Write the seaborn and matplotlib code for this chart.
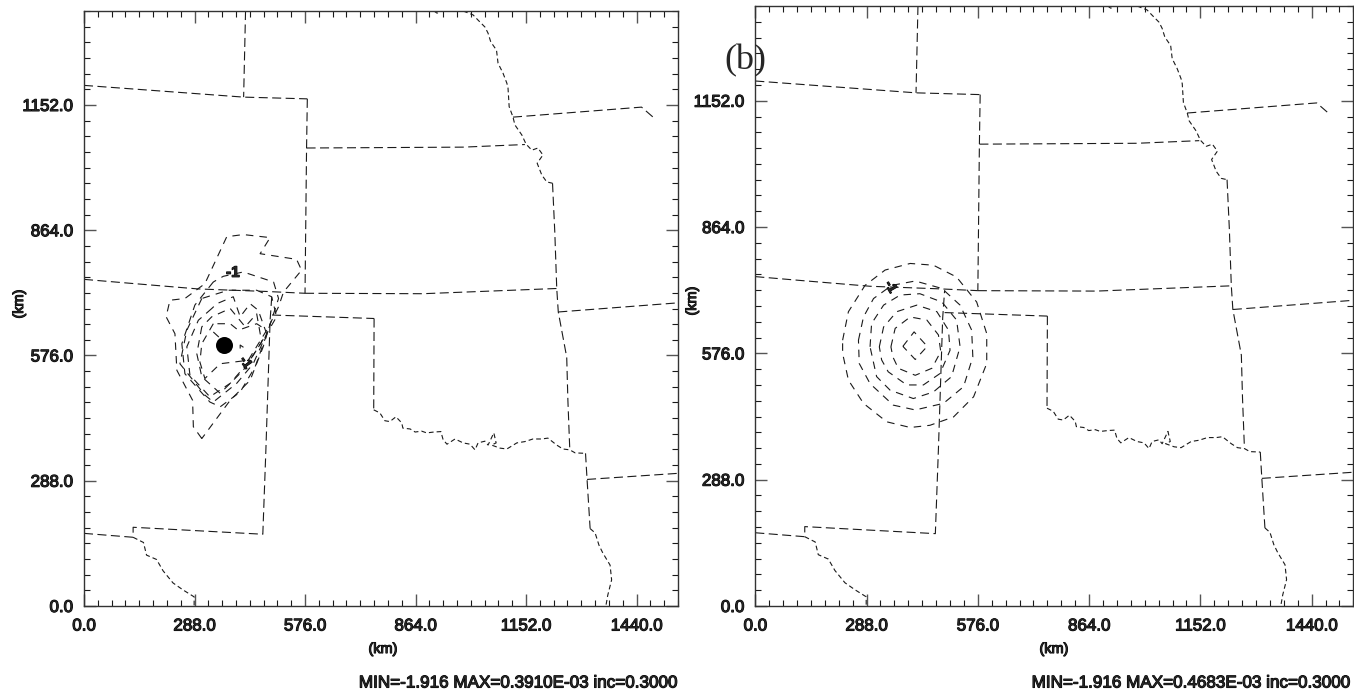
#!/usr/bin/env python
# -*- coding: utf-8 -*-
import matplotlib
matplotlib.use('Agg')
import matplotlib.pyplot as plt
import matplotlib.patheffects as pe
import pandas as pd
import seaborn as sns

# state lines, km
colorado_north = [(0, 1197), (416, 1170), (582, 1166)]
wyoming_east = [(421, 1368), (416, 1170)]
colorado_east = [(582, 1166), (580, 1053), (576, 719)]
nebraska_south = [(580, 1053), (988, 1055), (1149, 1061)]
kansas_south = [(576, 719), (883, 718), (1232, 730)]
colorado_south = [(0, 751), (120, 742), (297, 729), (480, 723), (576, 719)]
panhandle_north = [(490, 669), (756, 661)]
oklahoma_west = [(756, 661), (755, 451)]
oklahoma_east = [(1221, 972), (1227, 858), (1232, 730), (1236, 676), (1258, 572), (1261, 474), (1266, 359)]
arkansas_west = [(1307, 351), (1311, 291), (1319, 178)]
arkansas_north = [(1311, 291), (1548, 305)]
missouri_south = [(1236, 676), (1548, 697)]
iowa_south = [(1118, 1124), (1453, 1147), (1483, 1124)]
sw_line = [(0, 167), (128, 158), (128, 181), (466, 165), (474, 359), (485, 657), (490, 720)]

# rivers, km
red_river = [(755, 451), (771, 444), (784, 426), (797, 424), (813, 435), (828, 421), (831, 409),
             (850, 407), (863, 400), (880, 402), (893, 398), (912, 400), (930, 401), (936, 382),
             (946, 372), (967, 384), (988, 375), (1006, 372), (1019, 359), (1027, 375), (1045, 379),
             (1053, 370), (1068, 398), (1074, 375), (1062, 370), (1084, 363), (1102, 361),
             (1128, 375), (1149, 378), (1170, 384), (1193, 384), (1209, 386), (1232, 370),
             (1248, 361), (1266, 359), (1280, 352), (1307, 351)]
south_river = [(1319, 178), (1332, 168), (1342, 140), (1352, 122), (1371, 94), (1375, 60),
               (1365, 25), (1362, 10), (1360, 0)]
missouri_river = [(988, 1368), (1014, 1359), (1027, 1347), (1045, 1331), (1053, 1317), (1060, 1297),
                  (1075, 1278), (1079, 1248), (1092, 1225), (1102, 1202), (1105, 1191), (1108, 1148),
                  (1118, 1124), (1123, 1106), (1141, 1083), (1152, 1062), (1167, 1048), (1183, 1053),
                  (1196, 1037), (1181, 1018), (1193, 991), (1206, 975), (1221, 972)]
top_arc = [(912, 1368), (920, 1363), (930, 1368)]
sw_river = [(128, 158), (155, 146), (163, 117), (189, 107), (206, 81), (232, 53), (258, 37), (287, 21), (287, 0)]

# panel a contours
a1 = [(307, 385), (285, 412), (283, 473), (242, 542), (237, 626), (214, 665), (224, 703), (263, 707),
      (315, 741), (372, 849), (415, 854), (485, 847), (459, 810), (554, 797), (567, 772), (520, 722),
      (507, 688), (485, 649), (467, 596), (433, 519), (381, 473), (307, 385)]
a2 = [(337, 745), (289, 692), (255, 603), (263, 534), (328, 469), (355, 458), (407, 492), (446, 550),
      (480, 634), (507, 707), (494, 745), (415, 768), (363, 758), (337, 745)]
a3 = [(307, 707), (268, 634), (250, 557), (315, 485), (337, 469), (398, 512), (441, 557), (476, 626),
      (502, 665), (489, 711), (450, 726), (376, 726), (307, 707)]
a4 = [(333, 684), (298, 657), (268, 596), (276, 531), (328, 481), (381, 512), (433, 565), (476, 626),
      (454, 680), (433, 695), (407, 665), (389, 711), (346, 695), (333, 684)]
a5 = [(307, 642), (294, 580), (307, 527), (355, 489), (415, 542), (463, 607), (450, 672), (420, 642),
      (381, 684), (333, 665), (307, 642)]
a6 = [(337, 649), (307, 603), (302, 561), (315, 523), (355, 557), (428, 565), (476, 634), (450, 649),
      (402, 634), (381, 649), (337, 649)]
a7 = [(407, 592), (407, 600), (420, 592)]
a8 = [(337, 630), (353, 617)]
contours_a = [a1, a2, a3, a4, a5, a6, a7, a8]
obs_x = [365]
obs_y = [600]

# panel b contours
b1 = [(226, 606), (241, 671), (284, 731), (336, 766), (401, 781), (461, 777), (521, 750), (573, 693),
      (599, 621), (599, 553), (565, 477), (513, 431), (452, 412), (401, 407), (340, 420), (280, 462),
      (241, 515), (226, 576), (226, 606)]
b2 = [(267, 606), (280, 659), (306, 701), (353, 731), (414, 741), (483, 724), (530, 686), (560, 629),
      (563, 568), (539, 500), (487, 462), (414, 447), (357, 458), (297, 507), (269, 553), (267, 606)]
b3 = [(297, 591), (301, 644), (332, 686), (375, 709), (426, 712), (483, 693), (521, 652), (530, 591),
      (508, 523), (461, 488), (409, 473), (349, 492), (314, 523), (297, 591)]
b4 = [(321, 591), (332, 636), (366, 671), (418, 686), (470, 671), (500, 629), (504, 583), (478, 530),
      (435, 504), (392, 504), (344, 534), (327, 561), (321, 591)]
b5 = [(351, 591), (362, 633), (401, 659), (444, 652), (474, 618), (480, 580), (457, 542), (414, 526),
      (370, 542), (356, 568), (351, 591)]
b6 = [(382, 592), (411, 625), (445, 592), (414, 562), (382, 592)]
contours_b = [b1, b2, b3, b4, b5, b6]

state_lines = [colorado_north, wyoming_east, colorado_east, nebraska_south, kansas_south, colorado_south,
               panhandle_north, oklahoma_west, oklahoma_east, arkansas_west, arkansas_north, missouri_south,
               iowa_south, sw_line]
rivers = [red_river, south_river, missouri_river, top_arc, sw_river]

x_ticks = [0, 288, 576, 864, 1152, 1440]
y_ticks = [0, 288, 576, 864, 1152]
minor_step = 36
x_max = 1548
y_max = 1368
note_a = 'MIN=-1.916 MAX=0.3910E-03 inc=0.3000'
note_b = 'MIN=-1.916 MAX=0.4683E-03 inc=0.3000'

sns.set_style('white')
plt.rcParams['font.family'] = ['Liberation Sans', 'DejaVu Sans']
plt.rcParams['lines.scale_dashes'] = False

W, H = 1354, 696
fig = plt.figure(figsize=(W / 100, H / 100), dpi=100)
INK = '#1a1a1a'
thick = [pe.withStroke(linewidth=0.8, foreground='black')]


def line(ax, pts, dash, lw=0.8):
    df = pd.DataFrame(pts, columns=['x', 'y'])
    sns.lineplot(data=df, x='x', y='y', sort=False, estimator=None, errorbar=None, ax=ax,
                 color=INK, linewidth=lw, linestyle=(0, dash))


def panel(left, right, top, bottom, contours):
    ax = fig.add_axes([left / W, 1 - bottom / H, (right - left) / W, (bottom - top) / H])
    for pts in state_lines:
        line(ax, pts, (6.5, 3.2))
    for pts in rivers:
        line(ax, pts, (3.4, 2.2))
    for pts in contours:
        line(ax, pts, (5.4, 4.4))
    ax.set_xlim(0, x_max)
    ax.set_ylim(0, y_max)
    ax.set_xticks(x_ticks)
    ax.set_yticks(y_ticks)
    ax.set_xticks(range(0, x_max + 1, minor_step), minor=True)
    ax.set_yticks(range(0, y_max + 1, minor_step), minor=True)
    ax.set_xticklabels(['%.1f' % v for v in x_ticks], fontsize=12.2, path_effects=thick)
    ax.set_yticklabels(['%.1f' % v for v in y_ticks], fontsize=12.2, path_effects=thick)
    ax.set_xlabel('')
    ax.set_ylabel('')
    ax.tick_params(which='major', direction='in', length=8.6, width=1, color='#555555',
                   top=True, right=True, bottom=True, left=True, pad=9)
    ax.tick_params(which='minor', direction='in', length=4.6, width=0.8, color=INK,
                   top=True, right=True, bottom=True, left=True)
    ax.tick_params(axis='y', which='major', pad=8)
    for s in ax.spines.values():
        s.set_linewidth(1)
        s.set_color('#333333')
    ax.patch.set_alpha(0)
    return ax


ax_a = panel(84, 678, 11, 606, contours_a)
ax_b = panel(755.3, 1353.4, 6, 606, contours_b)

sns.scatterplot(x=obs_x, y=obs_y, ax=ax_a, color='black', s=150, linewidth=0, zorder=5)
ax_a.text(388, 766, '-1', fontsize=11, fontweight='bold', ha='center', va='center', path_effects=thick)
ax_a.text(420, 559, '-1', fontsize=9.5, fontweight='bold', ha='center', va='center', rotation=-55, path_effects=thick)
ax_b.text(349, 727, '-1', fontsize=9.5, fontweight='bold', ha='center', va='center', rotation=-60, path_effects=thick)

km_style = dict(fontsize=10.4, ha='center', va='center', path_effects=thick)
fig.text(383 / W, 1 - 649 / H, '(km)', **km_style)
fig.text(1054 / W, 1 - 649 / H, '(km)', **km_style)
fig.text(19 / W, 1 - 304 / H, '(km)', rotation=90, **km_style)
fig.text(692 / W, 1 - 301 / H, '(km)', rotation=90, **km_style)

note_style = dict(fontsize=12.3, ha='right', va='center', path_effects=thick)
fig.text(678 / W, 1 - 683 / H, note_a, **note_style)
fig.text(1351 / W, 1 - 683 / H, note_b, **note_style)

fig.text(724 / W, 1 - 69 / H, '(b)', family='Liberation Serif', fontsize=26, ha='left', va='baseline')

fig.savefig('out.png', dpi=100)
